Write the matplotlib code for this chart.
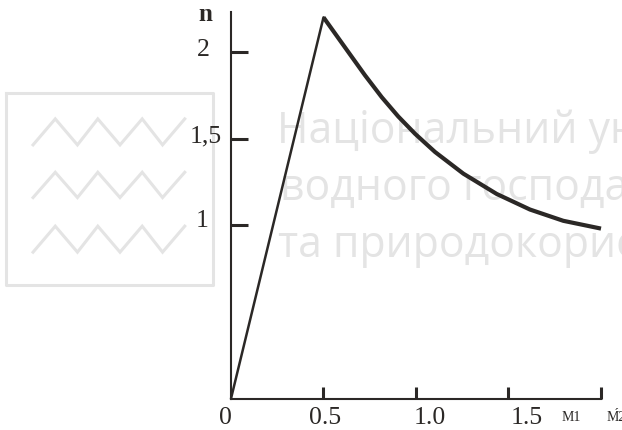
import matplotlib
matplotlib.use("Agg")
import matplotlib.pyplot as plt

# коефіцієнт n залежно від відношення частот
ratio = [0.0, 0.5, 0.634, 0.724, 0.815, 0.904, 0.995, 1.103, 1.256, 1.436, 1.616, 1.796, 2.0]
n_val = [0.0, 2.2, 2.0, 1.866, 1.739, 1.628, 1.528, 1.423, 1.298, 1.181, 1.091, 1.026, 0.981]

x_ticks = [0.5, 1.0, 1.5, 2.0]
y_ticks = [1.0, 1.5, 2.0]
x_labels = ["0", "0.5", "1.0", "1.5", "M1", "M\u03012"]
y_labels = ["1", "1,5", "2"]

INK = "#2b2826"
WM = "#e4e4e4"
SERIF = ["Liberation Serif", "DejaVu Serif"]

fig = plt.figure(figsize=(6.22, 4.31), dpi=100)
ax = fig.add_axes([0, 0, 1, 1])
ax.set_xlim(-231 / 185, (622 - 231) / 185)
ax.set_ylim((399.6 - 431) / 173.3, 399.6 / 173.3)

# водяний знак: рамка з хвилями та напис
ax.plot([-1.216, -0.097, -0.097, -1.216, -1.216],
        [1.763, 1.763, 0.655, 0.655, 1.763], color=WM, lw=2.2, zorder=0)
wave_x = [-1.07, -0.95, -0.83, -0.72, -0.60, -0.48, -0.37, -0.25]
for top, bot in [(1.614, 1.464), (1.306, 1.160), (0.995, 0.845)]:
    ax.plot(wave_x, [bot, top, bot, top, bot, top, bot, top],
            color=WM, lw=2.2, zorder=0, solid_joinstyle="miter")
for txt, xs, yb in [("Національний ун", 0.25, 1.48),
                    ("водного господа", 0.265, 1.153),
                    ("та природокорис", 0.255, 0.824)]:
    ax.text(xs, yb, txt, fontsize=30.8, family="Open Sans", color=WM,
            ha="left", va="baseline", zorder=0)

# осі
for side in ("top", "right"):
    ax.spines[side].set_visible(False)
for side in ("left", "bottom"):
    ax.spines[side].set_position(("data", 0))
    ax.spines[side].set_color(INK)
    ax.spines[side].set_linewidth(1.5)
ax.spines["left"].set_bounds(0, 2.23)
ax.spines["bottom"].set_bounds(0, 2.0)

ax.set_xticks(x_ticks)
ax.set_yticks(y_ticks)
ax.set_xticks(x_ticks, minor=True)
ax.set_yticks(y_ticks, minor=True)
ax.tick_params(which="major", direction="in", color=INK, width=2.2,
               labelbottom=False, labelleft=False)
ax.tick_params(axis="x", which="major", length=9)
ax.tick_params(axis="y", which="major", length=12)
ax.tick_params(which="minor", direction="out", length=5, color=INK, width=2.2,
               labelbottom=False, labelleft=False)

# крива: лінійне зростання до піку та спадна гілка
ax.plot(ratio[:2], n_val[:2], color=INK, lw=1.8, solid_capstyle="round", zorder=3)
ax.plot(ratio[1:], n_val[1:], color=INK, lw=3.0, solid_joinstyle="round",
        solid_capstyle="butt", zorder=3)

# підписи
x_lab_pos = [-0.03, 0.51, 1.075, 1.6, 1.84, 2.08]
for lab, xp in zip(x_labels, x_lab_pos):
    small = lab.startswith("M")
    ax.text(xp, -0.105, lab, family=SERIF, fontsize=10 if small else 18.5,
            color=INK, ha="center", va="center")
y_lab_pos = [(-0.124, 1.03), (-0.05, 1.52), (-0.114, 2.02)]
for lab, (xp, yp) in zip(y_labels, y_lab_pos):
    ax.text(xp, yp, lab, family=SERIF, fontsize=18.5, color=INK,
            ha="right", va="center")
ax.text(-0.14, 2.22, "n", family=SERIF, fontsize=18, fontweight="bold",
        color=INK, ha="center", va="center")

fig.savefig("out.png", dpi=100)
